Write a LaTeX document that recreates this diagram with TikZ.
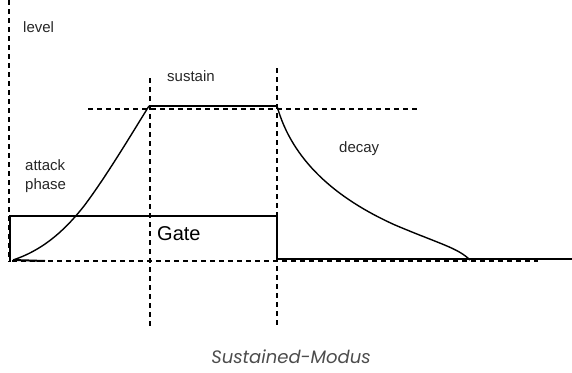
\documentclass[tikz,border=0pt]{standalone}
\usepackage{fontspec}
\setmainfont{Liberation Sans}
\newfontfamily\capfont{Poppins}
\usepackage{tikz}
\usetikzlibrary{positioning}

\begin{document}
\begin{tikzpicture}[
    x=1pt, y=-1pt,
    guide/.style={draw, line width=1.6pt, dash pattern=on 5pt off 4pt},
    curve/.style={draw, line width=1.4pt},
    lbl/.style={font=\fontsize{15}{19}\selectfont, text=black!85, inner sep=0pt}
]
\useasboundingbox (0,0) rectangle (572,372);

% Eckpunkte der Huellkurve
\coordinate (start) at (13,260);
\coordinate (peak) at (149,106);
\coordinate (hold) at (277,106);
\coordinate (floor) at (470,260);

% Hilfslinien
\draw[guide] (9,0) -- (9,262);
\draw[guide] (150,78) -- (150,328);
\draw[guide] (277,68) -- (277,328);
\draw[guide] (88,109) -- (418,109);
\draw[guide] (12,261) -- (538,261);

% Gate-Signal
\draw[curve] (10,262) -- (10,216) -- (277,216) -- (277,259) -- (572,259);

% Huellkurve
\draw[curve] (start) .. controls (40,251) and (62,234) .. (84,206)
    .. controls (106,177) and (134,130) .. (peak);
\draw[curve] (peak) -- (hold);
\draw[curve] (hold) .. controls (292,160) and (335,198) .. (395,225)
    .. controls (440,244) and (458,248) .. (floor);
\draw[curve, line width=2pt] (start) -- (45,261);

% Beschriftungen
\node[lbl, anchor=west] (level) at (23,27) {level};
\node[lbl, anchor=west] (sustain) at (167,76) {sustain};
\node[lbl, anchor=west] (decay) at (339,149) {decay};
\node[lbl, anchor=west, align=left] (attack) at (25,176) {attack\\phase};
\node[lbl, anchor=west, font=\fontsize{20}{22}\selectfont, text=black] (gate) at (157,234) {Gate};

% Bildunterschrift
\node[font=\capfont\itshape\fontsize{18}{20}\selectfont, text=black!70] (caption) at (291,357) {Sustained-Modus};

\end{tikzpicture}
\end{document}
